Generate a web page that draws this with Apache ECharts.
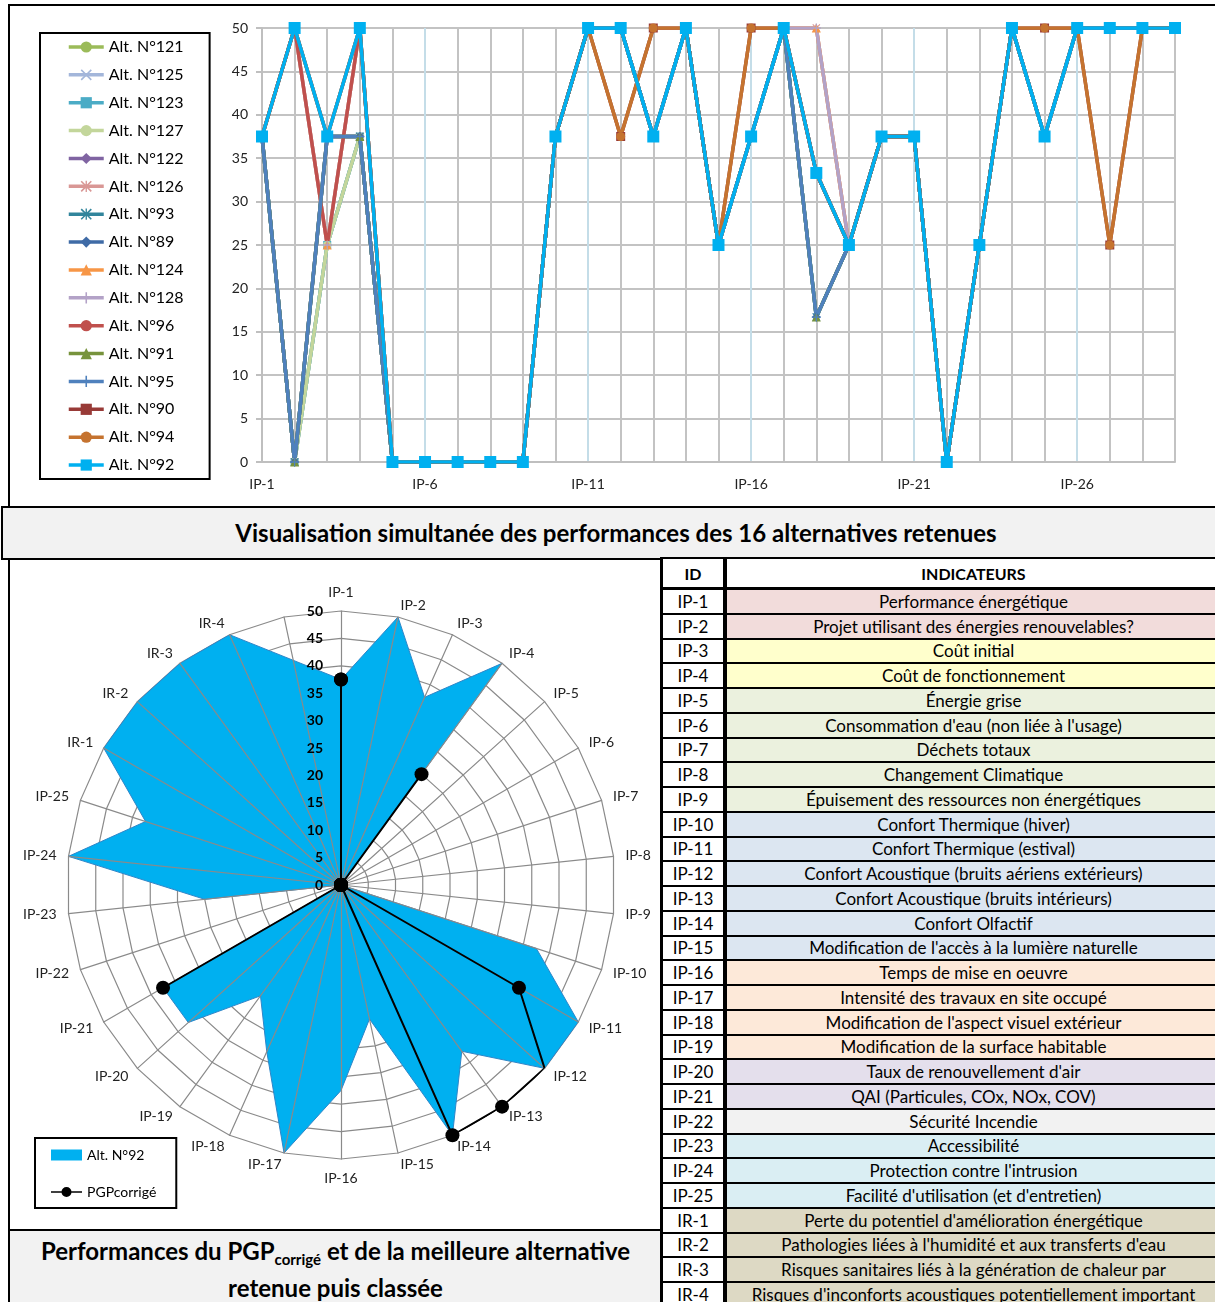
<!DOCTYPE html>
<html lang="fr">
<head>
<meta charset="utf-8">
<title>Performances des alternatives</title>
<script src="https://cdn.jsdelivr.net/npm/echarts@6.0.0/dist/echarts.min.js"></script>
<style>
  html, body { margin:0; padding:0; background:#fff; }
  #page { position:relative; width:1215px; height:1302px; overflow:hidden; font-family: Lato, 'Noto Sans', sans-serif; color:#000; }
  .panel { position:absolute; box-sizing:border-box; border:2px solid #000; background:#fff; }
  .band { position:absolute; box-sizing:border-box; border:2px solid #000; background:#f2f2f2; font-weight:bold; text-align:center; }
  #band1 { left:1px; top:506px; width:1230px; height:54px; font-size:24px; line-height:50px; }
  #band2 { left:8px; top:1229px; width:655px; height:80px; font-size:24px; line-height:37px; padding-top:1px; }
  #band2 sub { font-size:15px; vertical-align:-5px; line-height:0; }
  #topPanel { left:8px; top:4px; width:1220px; height:504px; }
  #radarPanel { left:8px; top:558px; width:655px; height:673px; }
  #table { position:absolute; left:660px; top:557px; width:560px; border-left:3px solid #000; border-top:2px solid #000; box-sizing:border-box; }
  .row { display:flex; box-sizing:border-box; height:24.75px; border-bottom:2px solid #000; font-size:17px; }
  .row.head { height:31px; border-bottom:3px solid #000; font-weight:bold; font-size:16px; background:#fff; }
  .cell { display:flex; align-items:center; justify-content:safe center; white-space:nowrap; overflow:hidden; }
  .cid { width:60px; border-right:4px solid #000; background:#fff; flex:none; }
  .ctext { flex:1; padding:0 3px; }
  #chart { position:absolute; left:0; top:0; width:1215px; height:1302px; }
</style>
</head>
<body>
<div id="page">
  <div class="panel" id="topPanel"></div>
  <div class="band" id="band1">Visualisation simultanée des performances des 16 alternatives retenues</div>
  <div class="panel" id="radarPanel"></div>
  <div class="band" id="band2">Performances du PGP<sub>corrigé</sub> et de la meilleure alternative<br>retenue puis classée</div>
  <div id="table"></div>
  <div id="chart"></div>
</div>
<script>
// ---- Line chart: categories and scores of the 16 retained alternatives ----
const xLabels = ['IP-1','IP-2','IP-3','IP-4','IP-5','IP-6','IP-7','IP-8','IP-9','IP-10',
  'IP-11','IP-12','IP-13','IP-14','IP-15','IP-16','IP-17','IP-18','IP-19','IP-20',
  'IP-21','IP-22','IP-23','IP-24','IP-25','IP-26','IP-27','IP-28','IP-29'];

const alt121 = [37.5, 0, 25, 37.5, 0, 0, 0, 0, 0, 37.5, 50, 50, 37.5, 50, 25, 37.5, 50, 16.7, 25, 37.5, 37.5, 0, 25, 50, 37.5, 50, 50, 50, 50];
const alt125 = [37.5, 0, 25, 37.5, 0, 0, 0, 0, 0, 37.5, 50, 50, 37.5, 50, 25, 37.5, 50, 16.7, 25, 37.5, 37.5, 0, 25, 50, 37.5, 50, 50, 50, 50];
const alt123 = [37.5, 0, 25, 37.5, 0, 0, 0, 0, 0, 37.5, 50, 50, 37.5, 50, 25, 37.5, 50, 33.3, 25, 37.5, 37.5, 0, 25, 50, 37.5, 50, 50, 50, 50];
const alt127 = [37.5, 0, 25, 37.5, 0, 0, 0, 0, 0, 37.5, 50, 50, 37.5, 50, 25, 37.5, 50, 33.3, 25, 37.5, 37.5, 0, 25, 50, 37.5, 50, 50, 50, 50];
const alt122 = [37.5, 0, 37.5, 37.5, 0, 0, 0, 0, 0, 37.5, 50, 50, 37.5, 50, 25, 37.5, 50, 33.3, 25, 37.5, 37.5, 0, 25, 50, 37.5, 50, 50, 50, 50];
const alt126 = [37.5, 0, 37.5, 37.5, 0, 0, 0, 0, 0, 37.5, 50, 50, 37.5, 50, 25, 37.5, 50, 50, 25, 37.5, 37.5, 0, 25, 50, 37.5, 50, 50, 50, 50];
const alt93  = [37.5, 0, 37.5, 37.5, 0, 0, 0, 0, 0, 37.5, 50, 50, 37.5, 50, 25, 37.5, 50, 16.7, 25, 37.5, 37.5, 0, 25, 50, 37.5, 50, 50, 50, 50];
const alt89  = [37.5, 0, 37.5, 37.5, 0, 0, 0, 0, 0, 37.5, 50, 50, 37.5, 50, 25, 37.5, 50, 16.7, 25, 37.5, 37.5, 0, 25, 50, 37.5, 50, 50, 50, 50];
const alt124 = [37.5, 50, 25, 50, 0, 0, 0, 0, 0, 37.5, 50, 50, 37.5, 50, 25, 37.5, 50, 50, 25, 37.5, 37.5, 0, 25, 50, 37.5, 50, 50, 50, 50];
const alt128 = [37.5, 50, 25, 50, 0, 0, 0, 0, 0, 37.5, 50, 50, 37.5, 50, 25, 37.5, 50, 50, 25, 37.5, 37.5, 0, 25, 50, 37.5, 50, 50, 50, 50];
const alt96  = [37.5, 50, 25, 50, 0, 0, 0, 0, 0, 37.5, 50, 50, 37.5, 50, 25, 37.5, 50, 33.3, 25, 37.5, 37.5, 0, 25, 50, 37.5, 50, 50, 50, 50];
const alt91  = [37.5, 0, 37.5, 37.5, 0, 0, 0, 0, 0, 37.5, 50, 50, 37.5, 50, 25, 37.5, 50, 16.7, 25, 37.5, 37.5, 0, 25, 50, 37.5, 50, 50, 50, 50];
const alt95  = [37.5, 0, 37.5, 37.5, 0, 0, 0, 0, 0, 37.5, 50, 50, 37.5, 50, 25, 37.5, 50, 16.7, 25, 37.5, 37.5, 0, 25, 50, 37.5, 50, 50, 50, 50];
const alt90  = [37.5, 50, 37.5, 50, 0, 0, 0, 0, 0, 37.5, 50, 37.5, 50, 50, 25, 50, 50, 33.3, 25, 37.5, 37.5, 0, 25, 50, 50, 50, 25, 50, 50];
const alt94  = [37.5, 50, 37.5, 50, 0, 0, 0, 0, 0, 37.5, 50, 37.5, 50, 50, 25, 50, 50, 33.3, 25, 37.5, 37.5, 0, 25, 50, 50, 50, 25, 50, 50];
const alt92  = [37.5, 50, 37.5, 50, 0, 0, 0, 0, 0, 37.5, 50, 50, 37.5, 50, 25, 37.5, 50, 33.3, 25, 37.5, 37.5, 0, 25, 50, 37.5, 50, 50, 50, 50];

// ---- Radar: indicators, best alternative and corrected PGP ----
const indicatorIds = ['IP-1','IP-2','IP-3','IP-4','IP-5','IP-6','IP-7','IP-8','IP-9','IP-10',
  'IP-11','IP-12','IP-13','IP-14','IP-15','IP-16','IP-17','IP-18','IP-19','IP-20',
  'IP-21','IP-22','IP-23','IP-24','IP-25','IR-1','IR-2','IR-3','IR-4'];
const radarAxes = indicatorIds.concat(['']);   // last spoke carries no indicator
const pgpCorrige = [37.5, 0, 0, 25, 0, 0, 0, 0, 0, 0, 37.5, 50, 50, 50, 0, 0, 0, 0, 0, 0, 37.5, 0, 0, 0, 0, 0, 0, 0, 0];

// ---- Indicator table ----
const indicatorTexts = [
  'Performance énergétique',
  'Projet utilisant des énergies renouvelables?',
  'Coût initial',
  'Coût de fonctionnement',
  'Énergie grise',
  "Consommation d'eau (non liée à l'usage)",
  'Déchets totaux',
  'Changement Climatique',
  'Épuisement des ressources non énergétiques',
  'Confort Thermique (hiver)',
  'Confort Thermique (estival)',
  'Confort Acoustique (bruits aériens extérieurs)',
  'Confort Acoustique (bruits intérieurs)',
  'Confort Olfactif',
  "Modification de l'accès à la lumière naturelle",
  'Temps de mise en oeuvre',
  'Intensité des travaux en site occupé',
  "Modification de l'aspect visuel extérieur",
  'Modification de la surface habitable',
  "Taux de renouvellement d'air",
  'QAI (Particules, COx, NOx, COV)',
  'Sécurité Incendie',
  'Accessibilité',
  "Protection contre l'intrusion",
  "Facilité d'utilisation (et d'entretien)",
  "Perte du potentiel d'amélioration énergétique",
  "Pathologies liées à l'humidité et aux transferts d'eau",
  'Risques sanitaires liés à la génération de chaleur par',
  "Risques d'inconforts acoustiques potentiellement important"
];
// number of consecutive rows per theme, with the theme's fill
const themeBands = [[2, '#f2dcdb'], [2, '#ffffcc'], [5, '#ebf1de'], [6, '#dce6f1'], [4, '#fde9d9'],
  [2, '#e4dfec'], [1, '#f2f2f2'], [3, '#daeef3'], [4, '#ddd9c4']];

(function buildTable() {
  const table = document.getElementById('table');
  const fills = [];
  themeBands.forEach(([n, c]) => { for (let k = 0; k < n; k++) fills.push(c); });
  let html = '<div class="row head"><div class="cell cid">ID</div><div class="cell ctext">INDICATEURS</div></div>';
  indicatorIds.forEach((id, i) => {
    html += '<div class="row"><div class="cell cid">' + id + '</div><div class="cell ctext" style="background:' +
      fills[i] + '">' + indicatorTexts[i].replace(/&/g, '&amp;') + '</div></div>';
  });
  table.innerHTML = html;
})();

// ---- Marker shapes ----
const xMark = 'path://M1,0L5,4L9,0L10,1L6,5L10,9L9,10L5,6L1,10L0,9L4,5L0,1Z';
const plusMark = 'path://M4.3,0H5.7V4.3H10V5.7H5.7V10H4.3V5.7H0V4.3H4.3Z';
const starMark = 'path://M1,0L5,4L9,0L10,1L6,5L10,9L9,10L5,6L1,10L0,9L4,5L0,1Z M4.4,0H5.6V10H4.4Z';

const lineDefs = [
  ['Alt. N°121', alt121, '#9bbb59', 'none', 0],
  ['Alt. N°125', alt125, '#a3b6da', xMark, 8],
  ['Alt. N°123', alt123, '#4bacc6', 'rect', 8],
  ['Alt. N°127', alt127, '#c3d69b', 'circle', 8],
  ['Alt. N°122', alt122, '#8064a2', 'diamond', 9],
  ['Alt. N°126', alt126, '#d99795', starMark, 8],
  ['Alt. N°93',  alt93,  '#31859c', starMark, 8],
  ['Alt. N°89',  alt89,  '#3f6ba6', 'diamond', 9],
  ['Alt. N°124', alt124, '#f79646', 'triangle', 9],
  ['Alt. N°128', alt128, '#b3a2c7', plusMark, 9],
  ['Alt. N°96',  alt96,  '#c0504d', 'none', 0],
  ['Alt. N°91',  alt91,  '#77933c', 'triangle', 9],
  ['Alt. N°95',  alt95,  '#4f81bd', plusMark, 9],
  ['Alt. N°90',  alt90,  '#983a37', 'rect', 9],
  ['Alt. N°94',  alt94,  '#c5732f', 'circle', 9],
  ['Alt. N°92',  alt92,  '#00b0f0', 'rect', 12]
];

const lineSeries = lineDefs.map(([name, values, color, symbol, size]) => ({
  name: name,
  type: 'line',
  xAxisIndex: 0,
  yAxisIndex: 0,
  data: values,
  color: color,
  symbol: symbol,
  symbolSize: size,
  showAllSymbol: true,
  lineStyle: { width: 3.5, color: color },
  itemStyle: { color: color },
  emphasis: { disabled: true },
  animation: false
}));

// polar points [radius, angle]; the outline returns to IP-1 at angle = number of spokes
function polarPoints(values) {
  const pts = radarAxes.map((name, i) => [i < values.length ? values[i] : null, i]);
  pts.push([values[0], radarAxes.length]);
  return pts;
}

// radar indicators listed so that they run clockwise from IP-1
const radarOrder = [0];
for (let i = radarAxes.length - 1; i >= 1; i--) radarOrder.push(i);
const indicators = radarOrder.map(i => ({ name: radarAxes[i], min: 0, max: 50 }));

const CENTER = [341, 885];
const RADIUS = 274;
const FONT = 'Lato';

const option = {
  animation: false,
  textStyle: { fontFamily: FONT },
  legend: [
    {
      data: lineDefs.map(d => d[0]),
      orient: 'vertical',
      left: 40, top: 33,
      padding: [6, 26, 6, 27],
      itemGap: 11.87,
      itemWidth: 35, itemHeight: 14,
      lineStyle: { width: 3.5 },
      borderColor: '#000', borderWidth: 2,
      backgroundColor: '#fff',
      textStyle: { fontSize: 16, lineHeight: 16, color: '#000', fontFamily: FONT },
      selectedMode: false
    },
    {
      data: [
        { name: 'Alt. N°92', icon: 'rect', itemStyle: { color: '#00b0f0', borderWidth: 0 } },
        { name: 'PGPcorrigé', icon: 'path://M0,5.3H31V6.7H0Z M10.5,6A5,5,0,1,1,20.5,6A5,5,0,1,1,10.5,6Z', itemStyle: { color: '#000' } }
      ],
      orient: 'vertical',
      left: 35, top: 1138,
      padding: [10, 20, 9, 16],
      itemGap: 23,
      itemWidth: 31, itemHeight: 11,
      borderColor: '#000', borderWidth: 2,
      backgroundColor: '#fff',
      textStyle: { fontSize: 14, color: '#000', fontFamily: FONT },
      selectedMode: false
    }
  ],
  grid: [
    { left: 262, top: 28, width: 913, height: 434, containLabel: false, outerBoundsMode: 'none' },
    { left: 341, top: 611, width: 1, height: 274, containLabel: false, outerBoundsMode: 'none' }
  ],
  xAxis: [
    {
      gridIndex: 0,
      type: 'category',
      data: xLabels,
      boundaryGap: false,
      axisLine: { lineStyle: { color: '#bfbfbf', width: 2 } },
      axisTick: { show: false },
      axisLabel: { interval: 4, color: '#222', fontSize: 14, margin: 15 },
      splitLine: { show: true, interval: 0,
        lineStyle: { width: 2, color: ['#c4dde8', '#c3c3c3', '#c3c3c3', '#c3c3c3', '#c3c3c3'] } }
    },
    { gridIndex: 1, type: 'value', show: false }
  ],
  yAxis: [
    {
      gridIndex: 0,
      type: 'value',
      min: 0, max: 50, interval: 5,
      axisLine: { show: true, lineStyle: { color: '#bfbfbf', width: 2 } },
      axisTick: { show: true, length: 6, lineStyle: { color: '#bfbfbf', width: 2 } },
      axisLabel: { color: '#222', fontSize: 14, margin: 14 },
      splitLine: { lineStyle: { color: '#c3c3c3', width: 2 } }
    },
    {
      gridIndex: 1,
      type: 'value',
      min: 0, max: 50, interval: 5,
      z: 10,
      axisLine: { show: false },
      axisTick: { show: false },
      splitLine: { show: false },
      axisLabel: { color: '#000', fontSize: 14, fontWeight: 'bold', margin: 18 }
    }
  ],
  radar: [
    {
      center: CENTER, radius: RADIUS, startAngle: 90, shape: 'polygon', splitNumber: 10,
      indicator: indicators,
      axisName: { color: '#222', fontSize: 14, fontFamily: FONT },
      axisNameGap: 12,
      axisLine: { show: false },
      axisTick: { show: false },
      axisLabel: { show: false },
      splitLine: { lineStyle: { color: '#8a8a8a', width: 1.2 } },
      splitArea: { show: false },
      z: 0
    },
    {
      center: CENTER, radius: RADIUS, startAngle: 90, shape: 'polygon', splitNumber: 10,
      indicator: indicators,
      axisName: { show: false },
      axisLine: { show: true, lineStyle: { color: '#8a8a8a', width: 1.2 } },
      axisTick: { show: false },
      axisLabel: { show: false },
      splitLine: { show: false },
      splitArea: { show: false },
      z: 3
    }
  ],
  polar: { center: CENTER, radius: RADIUS },
  angleAxis: { type: 'value', min: 0, max: radarAxes.length, startAngle: 90, clockwise: true, show: false },
  radiusAxis: { type: 'value', min: 0, max: 50, show: false },
  series: lineSeries.concat([
    {
      name: 'Alt. N°92',
      type: 'line',
      coordinateSystem: 'polar',
      data: polarPoints(alt92),
      connectNulls: true,
      symbol: 'none',
      color: '#00b0f0',
      lineStyle: { color: '#2f86c8', width: 1 },
      areaStyle: { color: '#00b0f0', opacity: 1 },
      z: 2,
      emphasis: { disabled: true }
    },
    {
      name: 'PGPcorrigé',
      type: 'line',
      coordinateSystem: 'polar',
      data: polarPoints(pgpCorrige),
      connectNulls: true,
      symbol: 'circle',
      symbolSize: 14,
      showAllSymbol: true,
      color: '#000',
      lineStyle: { color: '#000', width: 2 },
      itemStyle: { color: '#000' },
      z: 4,
      emphasis: { disabled: true }
    }
  ])
};

const chart = echarts.init(document.getElementById('chart'), null, { renderer: 'canvas' });
chart.setOption(option);
</script>
</body>
</html>
